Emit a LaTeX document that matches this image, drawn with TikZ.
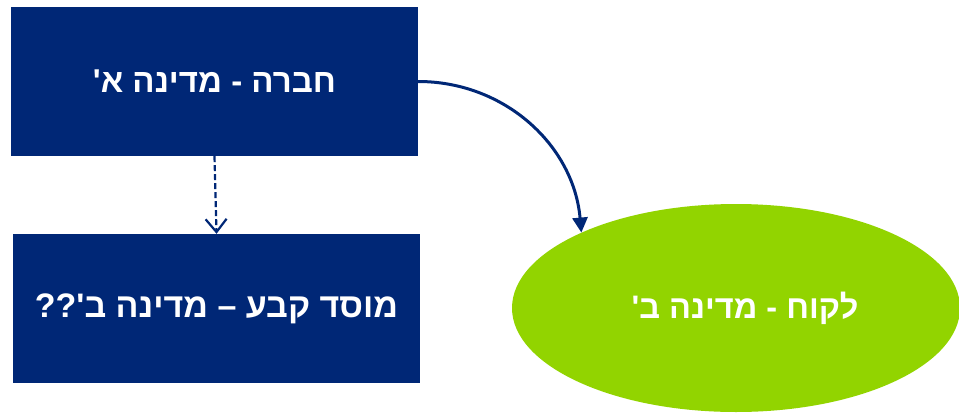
\documentclass[tikz,border=0pt]{standalone}
\usepackage{fontspec}
\setmainfont{Liberation Sans}
\newfontfamily\hebfont[Script=Hebrew]{Liberation Sans}
\TeXXeTstate=1
\usetikzlibrary{arrows.meta,shapes.geometric}
\definecolor{navy}{HTML}{002776}
\definecolor{lime}{HTML}{92D400}
\begin{document}
\begin{tikzpicture}[x=1pt,y=1pt,
  boxnode/.style={fill=navy,draw=none,minimum width=407pt,minimum height=149pt,inner sep=0pt,
    text=white,font=\hebfont\bfseries\fontsize{33}{38}\selectfont},
  ellnode/.style={ellipse,fill=lime,draw=none,minimum width=448pt,minimum height=208pt,inner sep=0pt,
    text=white,font=\hebfont\bfseries\fontsize{32.5}{38}\selectfont},
  solidarrow/.style={draw=navy,line width=3pt,-{Triangle[width=15pt,length=15pt]}},
  dasharrow/.style={draw=navy,line width=2.2pt,dash pattern=on 6pt off 3pt,-{Straight Barb[width=21pt,length=13pt,line width=2.2pt]}}]
\useasboundingbox (0,0) rectangle (959,-413);
\node[boxnode] (top) at (214.5,-81.5) {\beginR חברה - מדינה א'\endR};
\node[boxnode,font=\hebfont\bfseries\fontsize{34}{38}\selectfont] (bot) at (216.5,-308.5) {\beginR מוסד קבע – מדינה ב'??\endR};
\node[ellnode] (ell) at (736,-308) {\hspace*{18pt}\beginR לקוח - מדינה ב'\endR};
\draw[solidarrow] (top.east) to[out=0,in=95] (ell.154);
\draw[dasharrow] (top.south) -- (bot.north);
\end{tikzpicture}
\end{document}
